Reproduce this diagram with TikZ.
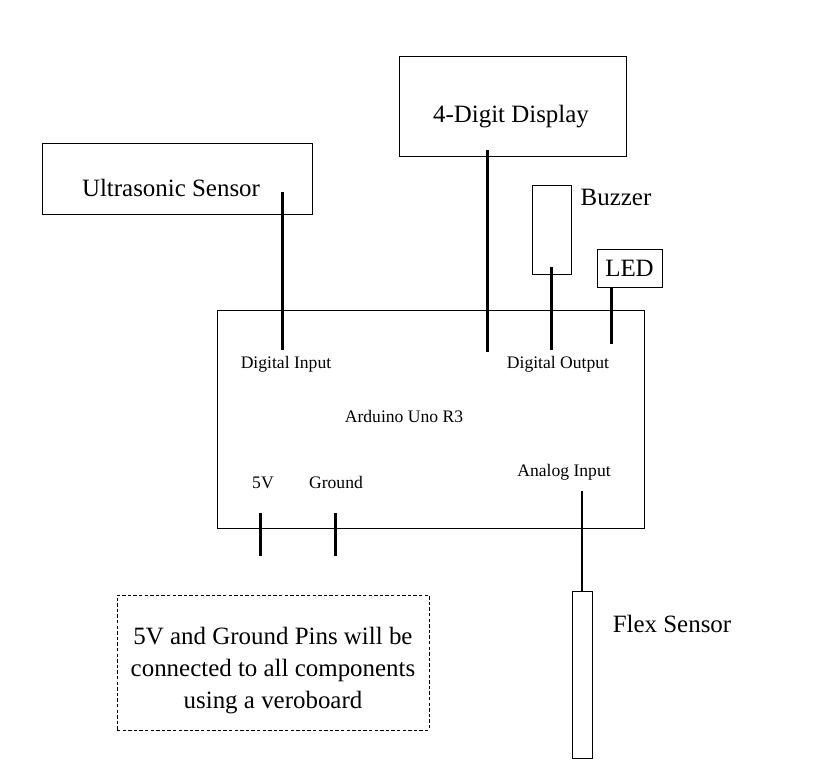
\documentclass[tikz,border=0pt]{standalone}
\usepackage{fontspec}
\setmainfont{Liberation Serif}
\begin{document}
\begin{tikzpicture}[x=0.75pt,y=-0.75pt,
  box/.style={draw, line width=0.75pt, inner sep=0pt, outer sep=0pt},
  dashbox/.style={draw, line width=0.75pt, dash pattern=on 2.6pt off 1.6pt, inner sep=0pt, outer sep=0pt},
  big/.style={font=\fontsize{18.7}{24}\selectfont, inner sep=0pt},
  small/.style={font=\fontsize{13.2}{16}\selectfont, inner sep=0pt},
  wire/.style={line width=2.25pt},
  thinwire/.style={line width=1.5pt}]
\useasboundingbox (0,0) rectangle (823,783);

% component boxes
\node[box, minimum width=202.5pt, minimum height=53.25pt] (us) at (177,178.5) {};
\node[big, anchor=base] (ust) at (171,196) {Ultrasonic Sensor};

\node[box, minimum width=170.25pt, minimum height=75pt] (disp) at (512.5,106) {};
\node[big, anchor=base] (dispt) at (511,122) {4-Digit Display};

\node[box, minimum width=29.25pt, minimum height=66.75pt] (buz) at (551.5,229.5) {};
\node[big, anchor=base] (buzt) at (616,205) {Buzzer};

\node[box, big, minimum width=48.75pt, minimum height=28.5pt] (led) at (629.5,268) {LED};

\node[box, minimum width=320.25pt, minimum height=163.5pt] (ard) at (430.5,419) {};
\node[small, anchor=base] (ardt) at (404,422) {Arduino Uno R3};
\node[small, anchor=base] (din) at (286,368) {Digital Input};
\node[small, anchor=base] (dout) at (558,368) {Digital Output};
\node[small, anchor=base] (v5) at (263,488) {5V};
\node[small, anchor=base] (gnd) at (336,488) {Ground};
\node[small, anchor=base] (ain) at (564,476) {Analog Input};

\node[box, minimum width=15pt, minimum height=125.25pt] (flex) at (582,674.5) {};
\node[big, anchor=base] (flext) at (672,632) {Flex Sensor};

\node[dashbox, minimum width=234pt, minimum height=101.25pt] (note) at (273,662.5) {};
\node[big, align=center] (notet) at (273,671) {5V and Ground Pins will be\\connected to all components\\using a veroboard};

% wire end points
\coordinate (us1) at (282,192);
\coordinate (us2) at (282,350);
\coordinate (d1) at (487,150);
\coordinate (d2) at (487,352);
\coordinate (b1) at (551,267);
\coordinate (b2) at (551,350);
\coordinate (l1) at (611,287);
\coordinate (l2) at (611,344);
\coordinate (p1) at (260,513);
\coordinate (p2) at (260,556);
\coordinate (g1) at (335,513);
\coordinate (g2) at (335,556);
\coordinate (a1) at (582,491);

% wires
\draw[wire] (us1) -- (us2);
\draw[wire] (d1) -- (d2);
\draw[wire] (b1) -- (b2);
\draw[wire] (l1) -- (l2);
\draw[wire] (p1) -- (p2);
\draw[wire] (g1) -- (g2);
\draw[thinwire] (a1) -- (flex.north);
\end{tikzpicture}
\end{document}
